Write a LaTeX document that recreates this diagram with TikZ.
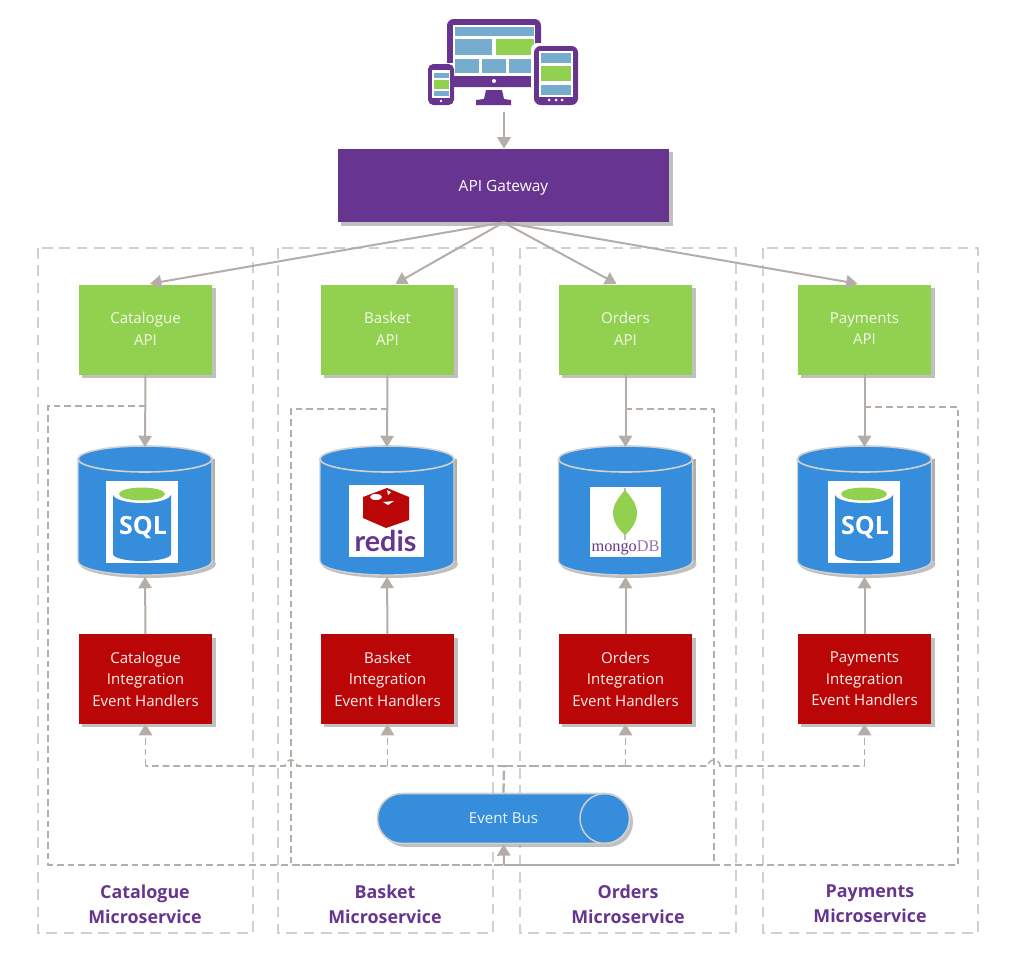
\documentclass[tikz,border=0pt]{standalone}
\usepackage{fontspec}
\setmainfont{Open Sans}
\newfontfamily\serifx{Liberation Serif}
\newfontfamily\redisfont{Lato}
\usetikzlibrary{arrows.meta,shadows,calc}
\definecolor{purp}{HTML}{67358F}
\definecolor{grn}{HTML}{92D050}
\definecolor{rd}{HTML}{BA0606}
\definecolor{blu}{HTML}{368DDC}
\definecolor{tile}{HTML}{76ACCD}
\definecolor{ln}{HTML}{B5ADA8}
\definecolor{lite}{HTML}{D0D0D0}
\newcommand{\liftup}{\rule[-2pt]{0pt}{2pt}}
\tikzset{
  shad/.style={drop shadow={shadow xshift=2.6pt,shadow yshift=-2.6pt,fill=black!45,opacity=.55}},
  base/.style={minimum width=100pt,minimum height=67.5pt,inner sep=0pt,align=center,font=\fontsize{11.3}{16.1}\selectfont,shad},
  apibox/.style={base,fill=grn,text=white!88!grn},
  handler/.style={base,fill=rd,text=white!94!rd,minimum height=67pt},
  dbnode/.style={minimum width=100pt,minimum height=97pt,inner sep=0pt},
  solidarrow/.style={draw=ln,line width=1.5pt,-{Triangle[width=10pt,length=8.5pt]}},
  evt/.style={draw=ln,line width=1.2pt,dash pattern=on 5pt off 3pt},
  evtheavy/.style={draw=ln,line width=1.7pt,dash pattern=on 7pt off 2.5pt},
  evtarrow/.style={evt,-{Triangle[width=10pt,length=8.5pt,fill=ln,color=ln]}},
  zone/.style={draw=lite,line width=1.2pt,dash pattern=on 8pt off 5pt},
  svc/.style={text=purp,font=\bfseries\fontsize{13.4}{18.6}\selectfont,align=center},
}
\newcommand{\dbshape}[2]{%
  \fill[ln] (#1-64,#2-53) rectangle (#1+70,#2+50);
  \fill[black!25] (#1+3,#2+52) ellipse[x radius=68,y radius=14];
  \fill[blu,draw=lite,line width=1pt] (#1-67,#2-53) -- (#1-67,#2+49) arc[start angle=180,end angle=360,x radius=67,y radius=-14] -- (#1+67,#2-53) -- cycle;
  \fill[blu,draw=lite,line width=1.2pt] (#1,#2-53) ellipse[x radius=67,y radius=13];
}
\newcommand{\sqlicon}[2]{%
  \fill[white] (#1-36,#2-31) rectangle (#1+36,#2+51);
  \fill[blu] (#1-29,#2-18) -- (#1-29,#2+42) arc[start angle=180,end angle=360,x radius=29,y radius=-7] -- (#1+29,#2-18) -- cycle;
  \fill[white] (#1,#2-18) ellipse[x radius=29,y radius=9];
  \fill[grn] (#1,#2-18) ellipse[x radius=23,y radius=6.5];
  \node[text=white,font=\bfseries\fontsize{18.8}{18.8}\selectfont,inner sep=0pt] (sql#1) at (#1+1,#2+16) {SQL};
}
\begin{document}
\begin{tikzpicture}[x=0.75pt,y=-0.75pt]
\path[use as bounding box] (0,0) rectangle (1018,953);

% microservice zones
\draw[zone] (38,248) rectangle (253,933);
\draw[zone] (278,248) rectangle (493,933);
\draw[zone] (520,248) rectangle (736,933);
\draw[zone] (763,248) rectangle (978,933);

% device icon
\coordinate (devices) at (504,112);
\fill[purp,rounded corners=5pt] (447,19) rectangle (541,87);
\fill[white] (453,25) rectangle (535,76);
\fill[white] (447,63) rectangle (453,87);
\fill[purp] (456,76) rectangle (532,87);
\fill[white] (494,81) circle[radius=2];
\fill[tile] (455,27) rectangle (534,36);
\fill[tile] (455,39) rectangle (492,55);
\fill[grn] (496,39) rectangle (534,55);
\fill[tile] (455,59) rectangle (479,73);
\fill[tile] (482,59) rectangle (506,73);
\fill[tile] (509,59) rectangle (532,73);
\fill[purp] (486,90) -- (502,90) -- (504,99) -- (511,100) -- (511,105) -- (476,105) -- (476,100) -- (484,99) -- cycle;
\fill[white,rounded corners=5pt] (531,43) rectangle (581,108);
\fill[purp,rounded corners=5pt] (534,46) rectangle (578,105);
\fill[white] (539,51) rectangle (573,97);
\fill[tile] (541,53) rectangle (571,63);
\fill[grn] (541,66) rectangle (571,81);
\fill[tile] (541,85) rectangle (571,95);
\foreach \k in {549,556,562} \fill[white] (\k,100) circle[radius=1.5];
\fill[purp,rounded corners=4pt] (428,64) rectangle (454,105);
\fill[white] (432,70) rectangle (450,98);
\fill[tile] (434,73) rectangle (449,78);
\fill[grn] (434,80) rectangle (449,89);
\fill[tile] (434,91) rectangle (449,96);
\fill[white] (441,101) circle[radius=1.4];

% gateway
\node[fill=purp,text=white,minimum width=248.5pt,minimum height=55pt,inner sep=0pt,shad,text depth=0pt,font=\fontsize{11.6}{12}\selectfont] (gw) at (503.5,185.5) {API Gateway};
\draw[solidarrow] (devices) -- (gw.north -| devices);

% API boxes
\node[apibox] (capi) at (145.5,330) {Catalogue\\API\liftup};
\node[apibox] (bapi) at (387.5,330) {Basket\\API\liftup};
\node[apibox] (oapi) at (625.5,330) {Orders\\API\liftup};
\node[apibox] (papi) at (864.5,330) {Payments\\API\liftup};

% handlers
\node[handler] (chan) at (145.5,679) {Catalogue\\Integration\\Event Handlers};
\node[handler] (bhan) at (387.5,679) {Basket\\Integration\\Event Handlers};
\node[handler] (ohan) at (625.5,679) {Orders\\Integration\\Event Handlers};
\node[handler] (phan) at (864.5,679) {Payments\\Integration\\Event Handlers};

% databases
\node[dbnode] (cdb) at (145,512) {};
\node[dbnode] (bdb) at (387,512) {};
\node[dbnode] (odb) at (625.5,512) {};
\node[dbnode] (pdb) at (864.5,512) {};

% event bus
\node[fill=blu,draw=lite,line width=1.2pt,rounded corners=18.5pt,minimum width=189pt,minimum height=37.5pt,inner sep=0pt,shad,text=white!90!blu,font=\fontsize{11.3}{12}\selectfont] (bus) at (503.5,818.5) {Event Bus};
\draw[lite,line width=1.1pt] (605,818.5) circle[radius=25];

% integration event lines (out of the event bus)
\coordinate (busup) at (bus.north);
\coordinate (busrail) at (504,766);
\draw[evtheavy] (busup) -- (busrail);
\draw[evt] (busrail) -- (297,766) arc[start angle=0,end angle=-180,radius=6] -- (145.5,766);
\draw[evtheavy] (busrail) -- (625,766);
\draw[evt] (625,766) -- (708,766) arc[start angle=-180,end angle=0,radius=6] -- (864.5,766);
\draw[evtarrow] (145.5,766) -- (chan.south);
\draw[evtarrow] (387.5,766) -- (bhan.south);
\draw[evtarrow] (625.5,766) -- (ohan.south);
\draw[evtarrow] (864.5,766) -- (phan.south);

% lines into the event bus
\coordinate (bustap) at (504,865);
\draw[evt] (145.5,406) -- (48,406) -- (48,865) -- (bustap);
\draw[evt] (387.5,409) -- (291,409) -- (291,865) -- (bustap);
\draw[evt] (625.5,409) -- (714,409) -- (714,865) -- (bustap);
\draw[evt] (864.5,407) -- (958,407) -- (958,865) -- (bustap);
\draw[solidarrow] (bustap) -- (bus.south);

% gateway to APIs
\draw[solidarrow] (gw.south) -- ($(capi.north)+(4.5,-1)$);
\draw[solidarrow] (gw.south) -- ($(bapi.north)+(8,-1)$);
\draw[solidarrow] (gw.south) -- ($(oapi.north)+(-9,-1)$);
\draw[solidarrow] (gw.south) -- ($(papi.north)+(-7,-1)$);

% database drawings
\dbshape{145}{512}
\dbshape{387}{512}
\dbshape{625.5}{512}
\dbshape{864.5}{512}
\sqlicon{142}{512}
\sqlicon{864}{512}

% redis
\fill[white] (349,485) rectangle (424,557);
\fill[rd] (387,488) -- (409,497) -- (409,520) -- (386,528) -- (363,518) -- (363,497) -- cycle;
\fill[white] (376,497) ellipse[x radius=6,y radius=3];
\fill[white] (387,490) -- (391,492) -- (388,495) -- cycle;
\fill[white] (394,501) -- (388,505) -- (383,502) -- cycle;
\node[text=purp,font=\bfseries\fontsize{21.5}{21.5}\selectfont,inner sep=0pt] (redislogo) at (385.5,541) {\redisfont redis};

% mongo
\fill[white] (590,487) rectangle (661,557);
\draw[black!25,line width=.8pt] (625,488) -- (625,540);
\fill[grn] (625,490) .. controls (618,498) and (613,505) .. (613,513) .. controls (613,522) and (619,530) .. (625,535) .. controls (631,530) and (637,522) .. (637,513) .. controls (637,505) and (632,498) .. (625,490) -- cycle;
\node[font=\serifx\fontsize{12.2}{12.2}\selectfont,inner sep=0pt] (mongologo) at (625.5,548) {\textcolor{purp}{mongo}\textcolor{purp!70}{DB}};

% database arrows
\draw[solidarrow] (capi.south) -- (cdb.north);
\draw[solidarrow] (bapi.south) -- (bdb.north);
\draw[solidarrow] (oapi.south) -- (odb.north);
\draw[solidarrow] (papi.south) -- (pdb.north);
\draw[solidarrow] (chan.north) -- (cdb.south);
\draw[solidarrow] (bhan.north) -- (bdb.south);
\draw[solidarrow] (ohan.north) -- (odb.south);
\draw[solidarrow] (phan.north) -- (pdb.south);

% labels
\node[svc] (clab) at (145,904) {Catalogue\\Microservice};
\node[svc] (blab) at (385,904) {Basket\\Microservice};
\node[svc] (olab) at (628,904) {Orders\\Microservice};
\node[svc] (plab) at (870,904) {Payments\\Microservice};
\end{tikzpicture}
\end{document}
